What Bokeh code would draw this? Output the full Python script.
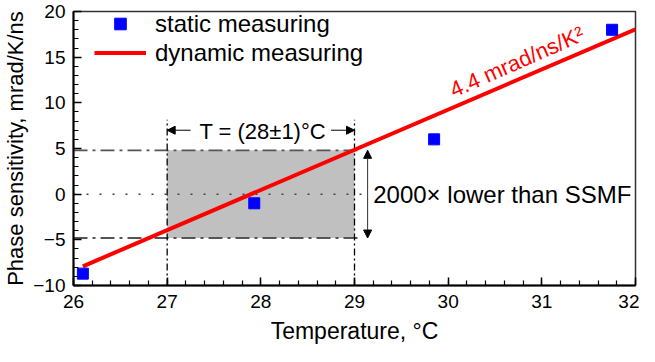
from bokeh.plotting import figure
from bokeh.models import Range1d, Arrow, NormalHead, Legend, LegendItem, FixedTicker
from bokeh.core.properties import value
from bokeh.embed import file_html
from bokeh.resources import INLINE

# ---- data ----
static_T = [26.1, 27.93, 29.85, 31.75]
static_S = [-8.7, -1.0, 6.0, 18.0]
dyn_T = [26.1, 32.0]
dyn_S = [-7.9, 18.06]
window_T = [27.0, 29.0]
window_S = [-4.8, 4.8]
guide_T_end = 29.08
guide_S_top = 8.15
arrow_S = 7.0
span_T = 29.14
x_ticks = [26, 27, 28, 29, 30, 31, 32]
y_ticks = [-10, -5, 0, 5, 10, 15, 20]
slope_label = "4.4 mrad/ns/K\u00b2"
window_label = "T = (28\u00b11)\u00b0C"
ratio_label = "2000\u00d7 lower than SSMF"

FONT = "Liberation Sans"

p = figure(width=639, height=346, output_backend="svg", toolbar_location=None,
           x_range=Range1d(26, 32), y_range=Range1d(-10, 20),
           min_border_left=67, min_border_right=4, min_border_top=11, min_border_bottom=57)
p.grid.visible = False
p.outline_line_color = "#333333"
p.outline_line_width = 1.5
p.background_fill_color = "white"

for ax in (p.xaxis[0], p.yaxis[0]):
    ax.axis_line_width = 2
    ax.axis_line_color = "black"
    ax.major_tick_in = 8
    ax.major_tick_out = 0
    ax.minor_tick_in = 5
    ax.minor_tick_out = 0
    ax.major_tick_line_width = 1.5
    ax.minor_tick_line_width = 1.2
    ax.major_label_text_font = FONT
    ax.major_label_text_font_size = "19px"
    ax.major_label_text_color = "black"
    ax.axis_label_text_font = FONT
    ax.axis_label_text_font_style = "normal"
    ax.axis_label_text_color = "black"

p.xaxis.axis_label_text_font_size = "23px"
p.yaxis.axis_label_text_font_size = "22px"
p.xaxis.ticker = FixedTicker(ticks=x_ticks, minor_ticks=[26 + 0.2 * i for i in range(31)])
p.yaxis.ticker = FixedTicker(ticks=y_ticks, minor_ticks=[-10 + i for i in range(31)])
p.xaxis.axis_label = "Temperature, \u00b0C"
p.yaxis.axis_label = "Phase sensitivity, mrad/K/ns"
p.xaxis.major_label_standoff = 9
p.yaxis.major_label_standoff = 8
p.xaxis.axis_label_standoff = 7
p.yaxis.axis_label_standoff = 2

# gray window
p.quad(left=window_T[0], right=window_T[1], bottom=window_S[0], top=window_S[1],
       fill_color="#c0c0c0", line_color=None)

# dotted zero line
p.line([26, guide_T_end + 0.02], [0, 0], line_color="#444444", line_width=1.5, line_dash="2 11")

# horizontal dash-dot guides
for s in window_S:
    p.line([26, guide_T_end], [s, s], line_color="#555555", line_width=1.8, line_dash="14 5 3 5")

# vertical dash-dot guides
for t in window_T:
    p.line([t, t], [-10, guide_S_top], line_color="black", line_width=1.3, line_dash="7 3 2 3")

# dynamic line
r_line = p.line(dyn_T, dyn_S, line_color="#ff0000", line_width=4)
# static points
r_pts = p.scatter(static_T, static_S, marker="square", size=11, fill_color="#0000ff", line_color="#0000ff")

# arrows for temperature window
p.add_layout(Arrow(end=NormalHead(size=8, fill_color="black", line_color="black"),
                   x_start=window_T[0] + 0.25, y_start=arrow_S, x_end=window_T[0], y_end=arrow_S,
                   line_color="black", line_width=1))
p.add_layout(Arrow(end=NormalHead(size=8, fill_color="black", line_color="black"),
                   x_start=window_T[1] - 0.25, y_start=arrow_S, x_end=window_T[1], y_end=arrow_S,
                   line_color="black", line_width=1))
p.text(x=[28.02], y=[arrow_S - 0.1], text=[window_label], text_font=value(FONT),
       text_font_size="22px", text_align="center", text_baseline="middle", text_color="black")

# vertical double arrow
p.add_layout(Arrow(start=NormalHead(size=8, fill_color="black", line_color="black"),
                   end=NormalHead(size=8, fill_color="black", line_color="black"),
                   x_start=span_T, y_start=window_S[0], x_end=span_T, y_end=window_S[1],
                   line_color="#333333", line_width=1))
p.text(x=[29.2], y=[0], text=[ratio_label], text_font=value(FONT),
       text_font_size="24px", text_align="left", text_baseline="middle", text_color="black")

# slope label
p.text(x=[30.03], y=[11.3], text=[slope_label], text_font=value(FONT), angle=0.415,
       text_font_size="22px", text_align="left", text_baseline="alphabetic", text_color="#ff0000")

legend = Legend(items=[LegendItem(label="static measuring", renderers=[r_pts]),
                       LegendItem(label="dynamic measuring", renderers=[r_line])],
                location=(21, 218), padding=0, margin=0, spacing=0,
                glyph_width=52, glyph_height=29, label_height=29, label_standoff=9,
                label_text_font=FONT, label_text_font_size="24px",
                label_text_baseline="middle", label_text_color="black",
                border_line_color=None, background_fill_alpha=0)
p.add_layout(legend)

open("out.html", "w").write(file_html(p, INLINE))
